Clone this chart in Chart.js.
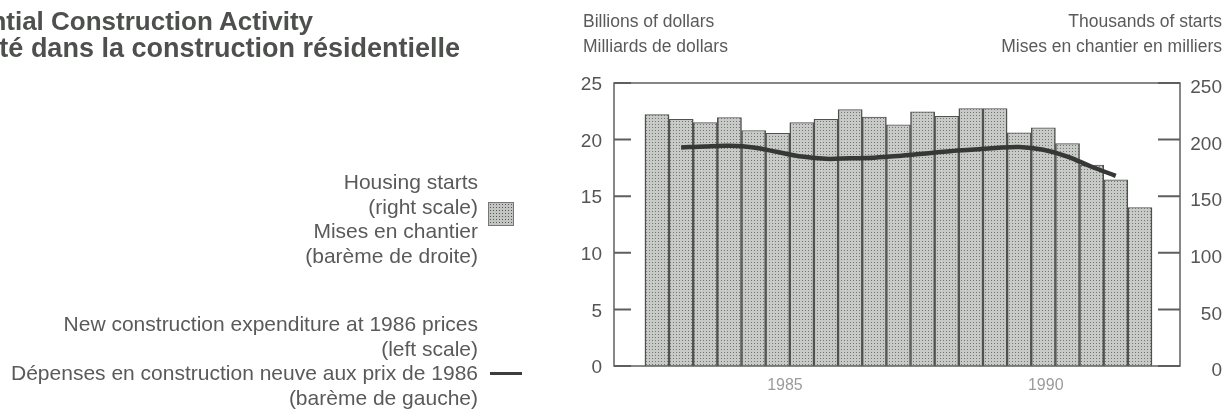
<!DOCTYPE html>
<html>
<head>
<meta charset="utf-8">
<script src="https://cdn.jsdelivr.net/npm/chart.js@4.4.1/dist/chart.umd.min.js"></script>
<style>
  body { margin: 0; background: #fff; }
  #wrap { position: relative; width: 1226px; height: 415px; overflow: hidden; font-family: 'Liberation Sans', Arial, sans-serif; color: #555; }
  #chart { position: absolute; left: 0; top: 0; }
  .t { position: absolute; white-space: nowrap; }
  .title { font-weight: bold; font-size: 26px; color: #4e504e; }
  .axt { font-size: 17.5px; color: #5a5a5a; }
  .leg { font-size: 21px; line-height: 24.5px; text-align: right; color: #5a5a5a; }
  #swatch { position: absolute; left: 488px; top: 202px; width: 24px; height: 22px; border: 1px solid #777;
    background-color: #c3c5c3; background-image: radial-gradient(#555 35%, transparent 40%); background-size: 3px 3px; }
  #lineSw { position: absolute; left: 490px; top: 372px; width: 32px; height: 3px; background: #3c3e3c; }
</style>
</head>
<body>
<div id="wrap">
  <canvas id="chart" width="1226" height="415"></canvas>
  <div class="t title" style="right:913px; top:6px;">Residential Construction Activity</div>
  <div class="t title" style="right:766px; top:33px; font-size:27px;">Activité dans la construction résidentielle</div>
  <div class="t axt" style="left:583px; top:11px;">Billions of dollars</div>
  <div class="t axt" style="left:583px; top:36px;">Milliards de dollars</div>
  <div class="t axt" style="right:4px; top:11px; text-align:right;">Thousands of starts</div>
  <div class="t axt" style="right:4px; top:36px; text-align:right;">Mises en chantier en milliers</div>
  <div class="t leg" style="right:748px; top:170px;">Housing starts<br>(right scale)<br>Mises en chantier<br>(barème de droite)</div>
  <div id="swatch"></div>
  <div class="t leg" style="right:748px; top:312px;">New construction expenditure at 1986 prices<br>(left scale)<br>Dépenses en construction neuve aux prix de 1986<br>(barème de gauche)</div>
  <div id="lineSw"></div>
</div>
<script>
// housing starts, thousands (right scale), one bar per period
const startsValues = [222, 218, 215, 219.5, 208, 205.5, 215, 218, 226.5, 220, 213, 224.5, 220.5, 227.5, 227.5, 206, 210.5, 196.5, 177.5, 164.5, 140];
// new construction expenditure, billions of 1986 dollars (left scale)
const spendingValues = [null, 19.3, 19.4, 19.45, 19.3, 18.9, 18.5, 18.3, 18.35, 18.4, 18.55, 18.75, 18.95, 19.1, 19.25, 19.35, 19.1, 18.5, 17.6, 16.8, null];
const leftTicks = [0, 5, 10, 15, 20, 25];
const rightTicks = [0, 50, 100, 150, 200, 250];
const xTickLabels = ['1985', '1990'];
const xTickPos = [5.3, 16.1];

const barData = startsValues.map((v, i) => ({ x: i, y: v }));
const lineData = spendingValues.map((v, i) => ({ x: i, y: v })).filter(p => p.y !== null);

function dotPattern() {
  const c = document.createElement('canvas');
  c.width = 3; c.height = 3;
  const g = c.getContext('2d');
  g.fillStyle = '#c8cac8';
  g.fillRect(0, 0, 3, 3);
  g.fillStyle = '#737573';
  g.fillRect(1, 1, 1, 1);
  return g.createPattern(c, 'repeat');
}

const frame = {
  id: 'frame',
  afterDatasetsDraw(chart) {
    const { ctx, chartArea: a, scales } = chart;
    ctx.save();
    ctx.strokeStyle = '#5d5f5d';
    ctx.lineWidth = 1.5;
    ctx.strokeRect(a.left, a.top, a.right - a.left, a.bottom - a.top);
    ctx.lineWidth = 2;
    ctx.beginPath();
    leftTicks.forEach(v => {
      const y = scales.y.getPixelForValue(v);
      ctx.moveTo(a.left, y); ctx.lineTo(a.left + 17, y);
    });
    rightTicks.forEach(v => {
      const y = scales.y2.getPixelForValue(v);
      ctx.moveTo(a.right - 22, y); ctx.lineTo(a.right, y);
    });
    ctx.stroke();
    ctx.restore();
  }
};

new Chart(document.getElementById('chart'), {
  type: 'bar',
  data: {
    datasets: [
      {
        type: 'line',
        label: 'New construction expenditure',
        data: lineData,
        yAxisID: 'y',
        borderColor: '#363836',
        borderWidth: 4.5,
        tension: 0.35,
        pointRadius: 0,
        order: 0
      },
      {
        label: 'Housing starts',
        data: barData,
        yAxisID: 'y2',
        backgroundColor: dotPattern(),
        borderColor: '#505250',
        borderWidth: { left: 1.5, right: 1.5, top: 1, bottom: 0 },
        borderSkipped: 'bottom',
        barPercentage: 1,
        categoryPercentage: 1,
        order: 1
      }
    ]
  },
  options: {
    responsive: false,
    animation: false,
    layout: { padding: { left: 560, right: 4, top: 83, bottom: 0 } },
    plugins: { legend: { display: false }, tooltip: { enabled: false } },
    scales: {
      x: {
        type: 'linear',
        min: -1.78,
        max: 21.66,
        offset: false,
        grid: { display: false, drawTicks: false },
        border: { display: false },
        afterBuildTicks: s => { s.ticks = xTickPos.map(v => ({ value: v })); },
        afterFit: s => { s.height = 49; },
        ticks: {
          autoSkip: false,
          maxRotation: 0,
          padding: 10,
          color: '#9a9c9a',
          font: { family: 'Liberation Sans', size: 16 },
          callback: v => xTickLabels[xTickPos.indexOf(v)]
        }
      },
      y: {
        position: 'left',
        min: 0,
        max: 25,
        afterBuildTicks: s => { s.ticks = leftTicks.map(v => ({ value: v })); },
        afterFit: s => { s.width = 54; },
        grid: { display: false, drawTicks: false },
        border: { display: false },
        ticks: { padding: 12, labelOffset: 2, color: '#555', font: { family: 'Liberation Sans', size: 19 } }
      },
      y2: {
        position: 'right',
        min: 0,
        max: 250,
        afterBuildTicks: s => { s.ticks = rightTicks.map(v => ({ value: v })); },
        afterFit: s => { s.width = 42; },
        grid: { display: false, drawTicks: false },
        border: { display: false },
        ticks: { padding: 6, labelOffset: 5, crossAlign: 'far', color: '#555', font: { family: 'Liberation Sans', size: 19 } }
      }
    }
  },
  plugins: [frame]
});
</script>
</body>
</html>
